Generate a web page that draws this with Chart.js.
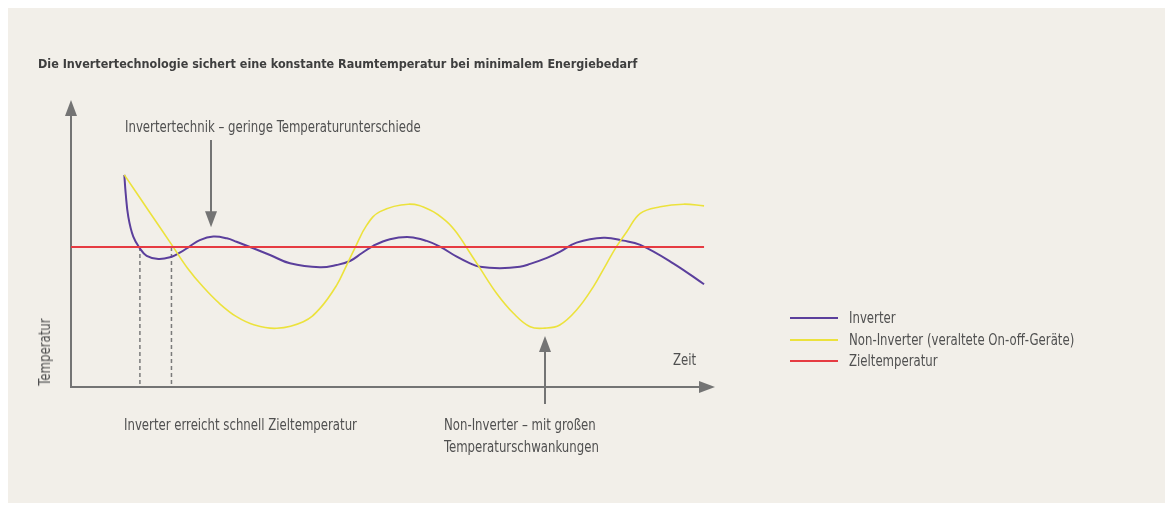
<!DOCTYPE html>
<html>
<head>
<meta charset="utf-8">
<script src="https://cdn.jsdelivr.net/npm/chart.js@4/dist/chart.umd.min.js"></script>
<style>
    body { margin: 0; background: #fff; }
    #wrap { position: relative; width: 1173px; height: 511px; font-family: "Liberation Sans Narrow", "DejaVu Sans Condensed", sans-serif; color: #505050; }
    #panel { position: absolute; left: 8px; top: 8px; width: 1157px; height: 495px; background: #f2efe9; }
    #chart { position: absolute; left: 0; top: 0; }
    .txt { position: absolute; font-size: 15px; white-space: nowrap; line-height: 22px; transform-origin: 0 50%; transform: scaleX(0.87); }
    #title { left: 38px; top: 53px; font-weight: bold; font-size: 13px; color: #3e3e3e; transform: scaleX(0.96); }
    #ylabel { left: 45px; top: 352px; transform-origin: 50% 50%; transform: translate(-50%, -50%) rotate(-90deg) scaleX(0.87); }
    .swatch { position: absolute; left: 790px; width: 48px; height: 2px; }
</style>
</head>
<body>
<div id="wrap">
    <div id="panel"></div>
    <canvas id="chart" width="1173" height="511"></canvas>
    <div class="txt" id="title">Die Invertertechnologie sichert eine konstante Raumtemperatur bei minimalem Energiebedarf</div>
    <div class="txt" style="left:125px; top:116px;">Invertertechnik – geringe Temperaturunterschiede</div>
    <div class="txt" style="left:673px; top:349px;">Zeit</div>
    <div class="txt" id="ylabel">Temperatur</div>
    <div class="txt" style="left:124px; top:414px;">Inverter erreicht schnell Zieltemperatur</div>
    <div class="txt" style="left:444px; top:414px;">Non-Inverter – mit großen<br>Temperaturschwankungen</div>
    <div class="swatch" style="top:317px; background:#5b3f9c"></div>
    <div class="swatch" style="top:339px; background:#ece23c"></div>
    <div class="swatch" style="top:360px; background:#e63b42"></div>
    <div class="txt" style="left:849px; top:307px;">Inverter</div>
    <div class="txt" style="left:849px; top:329px;">Non-Inverter (veraltete On-off-Geräte)</div>
    <div class="txt" style="left:849px; top:350px;">Zieltemperatur</div>
</div>
<script>
// Zeit (0..100) und Temperatur (0..100)
const inverterX = [8.28, 8.49, 8.9, 9.67, 10.7, 11.75, 13.56, 15.37, 16.9, 18.5, 20.0, 22.1, 24.2, 25.7, 30.9, 34.0, 38.66, 41.26, 43.32, 45.14, 46.94, 49.53, 52.64, 55.23, 57.3, 59.9, 61.96, 63.5, 66.6, 69.7, 71.3, 73.9, 75.9, 78.5, 82.7, 85.8, 88.4, 93.5, 98.3];
const inverterY = [73.9, 67.5, 59.3, 52.4, 48.3, 45.7, 44.6, 45.2, 46.8, 49.1, 51.2, 52.4, 51.8, 50.6, 46.0, 43.1, 41.7, 42.5, 43.9, 46.6, 49.2, 51.5, 52.2, 50.9, 48.9, 45.4, 43.1, 41.9, 41.4, 41.9, 42.9, 45.0, 47.1, 50.3, 52.0, 51.0, 49.5, 43.1, 35.8];

const nonInverterX = [8.28, 12.0, 15.6, 18.1, 20.5, 23.0, 25.7, 28.5, 31.94, 36.07, 38.66, 41.26, 42.81, 44.1, 45.92, 47.98, 52.38, 55.75, 58.34, 60.14, 61.44, 63.5, 66.1, 68.7, 71.3, 73.6, 75.9, 78.5, 81.1, 83.2, 84.7, 86.3, 88.4, 91.5, 95.1, 98.3];
const nonInverterY = [73.9, 61.6, 49.7, 41.4, 34.9, 29.2, 24.5, 21.6, 20.45, 22.75, 27.4, 35.5, 42.5, 48.5, 56.4, 61.1, 63.7, 61.7, 57.6, 53.0, 48.5, 41.4, 32.6, 25.7, 21.0, 20.5, 21.6, 26.8, 34.9, 43.1, 48.9, 54.1, 60.5, 62.8, 63.7, 63.1];

const targetTemp = 48.8;
const targetX = [0, 98.3];

// Zeitpunkte, an denen der Inverter / Non-Inverter die Zieltemperatur erreicht
const reachX = [10.7, 15.6];

// Pfeile der Anmerkungen: [x, yStart, yEnde]
const noteArrows = [[21.8, 86.1, 55.7], [73.6, -5.9, 17.8]];

function toPoints(xs, ys) {
    return xs.map((x, i) => ({ x: x, y: ys[i] }));
}

const gray = '#747474';

function arrowHead(ctx, x, y, dir, w, h) {
    ctx.beginPath();
    if (dir === 'up') {
        ctx.moveTo(x, y); ctx.lineTo(x - w / 2, y + h); ctx.lineTo(x + w / 2, y + h);
    } else if (dir === 'down') {
        ctx.moveTo(x, y); ctx.lineTo(x - w / 2, y - h); ctx.lineTo(x + w / 2, y - h);
    } else {
        ctx.moveTo(x, y); ctx.lineTo(x - h, y - w / 2); ctx.lineTo(x - h, y + w / 2);
    }
    ctx.closePath();
    ctx.fill();
}

const axesPlugin = {
    id: 'axesPlugin',
    beforeDatasetsDraw(chart) {
        const ctx = chart.ctx;
        const a = chart.chartArea;
        ctx.save();
        ctx.strokeStyle = gray;
        ctx.fillStyle = gray;
        ctx.lineWidth = 2;
        ctx.beginPath();
        ctx.moveTo(a.left, a.top + 10);
        ctx.lineTo(a.left, a.bottom);
        ctx.lineTo(a.right - 10, a.bottom);
        ctx.stroke();
        arrowHead(ctx, a.left, a.top, 'up', 12, 16);
        arrowHead(ctx, a.right, a.bottom, 'right', 12, 16);
        ctx.restore();
    },
    afterDatasetsDraw(chart) {
        const ctx = chart.ctx;
        const xs = chart.scales.x;
        const ys = chart.scales.y;
        ctx.save();
        ctx.strokeStyle = gray;
        ctx.fillStyle = gray;
        ctx.lineWidth = 2;
        noteArrows.forEach(([x, y0, y1]) => {
            const px = Math.round(xs.getPixelForValue(x));
            const p0 = ys.getPixelForValue(y0);
            const p1 = ys.getPixelForValue(y1);
            const dir = p1 < p0 ? 'up' : 'down';
            ctx.beginPath();
            ctx.moveTo(px, p0);
            ctx.lineTo(px, dir === 'up' ? p1 + 12 : p1 - 12);
            ctx.stroke();
            arrowHead(ctx, px, p1, dir, 12, 16);
        });
        ctx.restore();
    }
};

const datasets = [
    {
        label: 'Zieltemperatur',
        data: toPoints(targetX, targetX.map(() => targetTemp)),
        borderColor: '#e63b42',
        borderWidth: 2,
        pointRadius: 0,
        tension: 0
    },
    {
        label: 'Non-Inverter (veraltete On-off-Geräte)',
        data: toPoints(nonInverterX, nonInverterY),
        borderColor: '#ece23c',
        borderWidth: 1.6,
        pointRadius: 0,
        tension: 0.4
    },
    {
        label: 'Inverter',
        data: toPoints(inverterX, inverterY),
        borderColor: '#5b3f9c',
        borderWidth: 2,
        pointRadius: 0,
        tension: 0.4
    }
];

reachX.forEach(x => {
    datasets.push({
        label: 'reach',
        data: [{ x: x, y: targetTemp }, { x: x, y: 0 }],
        borderColor: '#7a7a7a',
        borderWidth: 1.5,
        borderDash: [4, 3],
        pointRadius: 0,
        tension: 0
    });
});

new Chart(document.getElementById('chart'), {
    type: 'line',
    data: { datasets: datasets },
    options: {
        responsive: false,
        animation: false,
        events: [],
        clip: false,
        layout: { padding: { left: 71, right: 458, top: 100, bottom: 124 } },
        scales: {
            x: { type: 'linear', min: 0, max: 100, display: false },
            y: { type: 'linear', min: 0, max: 100, display: false }
        },
        plugins: {
            legend: { display: false },
            tooltip: { enabled: false }
        }
    },
    plugins: [axesPlugin]
});
</script>
</body>
</html>
